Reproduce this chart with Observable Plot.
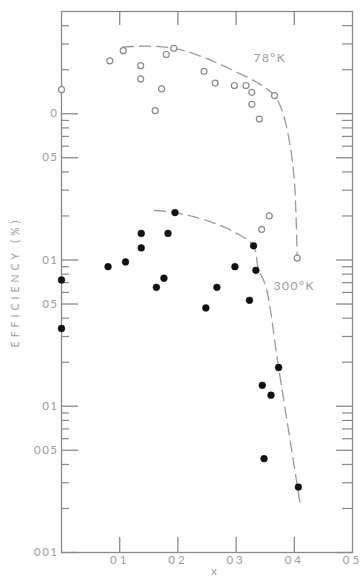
<!DOCTYPE html>
<html><head><meta charset="utf-8">
<script src="https://cdn.jsdelivr.net/npm/d3@7"></script>
<script src="https://cdn.jsdelivr.net/npm/@observablehq/plot@0.6"></script>
<style>body{margin:0;background:#fff;}svg{display:block}</style>
</head><body><div id="chart"></div>
<script>
// tick values and labels (as printed on the original)
const xTickValues = [0.1, 0.2, 0.3, 0.4, 0.5];
const xTickLabels = ["01", "02", "03", "04", "05"];
const xInnerTicks = [0.1, 0.2, 0.3, 0.4];
const yMajor = [0.01, 0.05, 0.1, 0.5, 1, 5, 10];
const yMajorLabels = ["001", "005", "01", "05", "01", "05", "0"];
const yMinor = [0.02, 0.03, 0.04, 0.06, 0.07, 0.08, 0.09,
                0.2, 0.3, 0.4, 0.6, 0.7, 0.8, 0.9,
                2, 3, 4, 6, 7, 8, 9, 20, 30, 40];

// 78 K measurements (open circles)
const x78 = [0, 0.083, 0.106, 0.136, 0.136, 0.161, 0.172, 0.18, 0.193, 0.245, 0.264, 0.297, 0.317, 0.327, 0.327, 0.34, 0.366, 0.344, 0.357, 0.405];
const y78 = [14.6, 23, 27, 21.3, 17.3, 10.5, 14.8, 25.4, 28, 19.5, 16.2, 15.6, 15.6, 14, 11.6, 9.2, 13.3, 1.62, 2.0, 1.03];
// 300 K measurements (filled circles)
const x300 = [0, 0, 0.08, 0.11, 0.137, 0.137, 0.163, 0.176, 0.183, 0.195, 0.248, 0.267, 0.298, 0.323, 0.33, 0.334, 0.345, 0.36, 0.373, 0.348, 0.407];
const y300 = [0.73, 0.34, 0.90, 0.97, 1.52, 1.21, 0.65, 0.75, 1.52, 2.11, 0.47, 0.65, 0.90, 0.53, 1.25, 0.85, 0.139, 0.119, 0.184, 0.0438, 0.028];

// dashed guide curves
const curve78x = [0.105, 0.15, 0.193, 0.23, 0.27, 0.31, 0.34, 0.366, 0.38, 0.393, 0.4, 0.403, 0.405];
const curve78y = [28.5, 29, 28, 25.5, 22, 18.5, 16, 13.3, 10.2, 6, 3.5, 2, 1.03];
const curve300x = [0.16, 0.195, 0.255, 0.301, 0.33, 0.338, 0.351, 0.373, 0.41];
const curve300y = [2.18, 2.11, 1.83, 1.52, 1.25, 0.88, 0.66, 0.184, 0.0216];

const seriesLabels = [{x: 0.358, y: 24, t: "78°K"}, {x: 0.40, y: 0.66, t: "300°K"}];

const W = 363, H = 579, mL = 61, mR = 11, mT = 11, mB = 27;
const pw = W - mL - mR, ph = H - mT - mB;
const gray = "#8a8a8a", light = "#9c9c9c";
const font = "Lato, 'Open Sans', sans-serif";

const pts78 = x78.map((x, i) => ({x, y: y78[i]}));
const pts300 = x300.map((x, i) => ({x, y: y300[i]}));
const c78 = curve78x.map((x, i) => ({x, y: curve78y[i]}));
const c300 = curve300x.map((x, i) => ({x, y: curve300y[i]}));

const chart = Plot.plot({
  width: W, height: H,
  marginLeft: mL, marginRight: mR, marginTop: mT, marginBottom: mB,
  style: {background: "#fff", fontFamily: font},
  x: {domain: [0, 0.5], axis: null},
  y: {type: "log", domain: [0.01, 50], axis: null},
  marks: [
    Plot.frame({stroke: gray, strokeWidth: 1.3}),
    // left ticks
    Plot.tickY(yMajor, {y: d => d, insetRight: pw - 17, stroke: gray, strokeWidth: 1.3}),
    Plot.tickY(yMinor, {y: d => d, insetRight: pw - 8, stroke: gray, strokeWidth: 1.2}),
    // right ticks
    Plot.tickY(yMajor, {y: d => d, insetLeft: pw - 16, stroke: gray, strokeWidth: 1.3}),
    Plot.tickY(yMinor, {y: d => d, insetLeft: pw - 10, stroke: gray, strokeWidth: 1.2}),
    // bottom and top ticks
    Plot.tickX(xInnerTicks, {x: d => d, insetTop: ph - 15, stroke: gray, strokeWidth: 1.3}),
    Plot.tickX(xInnerTicks, {x: d => d, insetBottom: ph - 14, stroke: gray, strokeWidth: 1.3}),
    // tick labels (text group 0)
    Plot.text(yMajor, {y: d => d, text: (d, i) => yMajorLabels[i], frameAnchor: "left", textAnchor: "end", dx: -3, fill: light, fontSize: 11.5}),
    // (text group 1)
    Plot.text(xTickValues, {x: d => d, text: (d, i) => xTickLabels[i], frameAnchor: "bottom", dy: 11, dx: 0, fill: light, fontSize: 11.5}),
    // axis titles (text groups 2, 3)
    Plot.text(["EFFICIENCY (%)"], {text: d => d, frameAnchor: "left", textAnchor: "middle", dx: -46, dy: 0, rotate: -90, fill: light, fontSize: 10.5}),
    Plot.text(["x"], {text: d => d, frameAnchor: "bottom", dx: 7, dy: 22, fill: light, fontSize: 11}),
    // dashed curves
    Plot.line(c78, {x: "x", y: "y", curve: "catmull-rom", stroke: "#9a9a9a", strokeWidth: 1.3, strokeDasharray: "11,6"}),
    Plot.line(c300, {x: "x", y: "y", curve: "catmull-rom", stroke: "#9a9a9a", strokeWidth: 1.3, strokeDasharray: "11,6"}),
    // data
    Plot.dot(pts78, {x: "x", y: "y", r: 3, stroke: "#8a8a8a", strokeWidth: 1.2, fill: "#fff"}),
    Plot.dot(pts300, {x: "x", y: "y", r: 3.4, fill: "#111", stroke: "#111", strokeWidth: 0.5}),
    // series labels (text group 4)
    Plot.text(seriesLabels, {x: "x", y: "y", text: "t", fill: light, fontSize: 12})
  ]
});
const groups = d3.select(chart).selectAll('g[aria-label="text"]').nodes();
const spacing = ["1.5px", "3px", "4px", "0px", "1.5px"];
groups.forEach((g, i) => d3.select(g).selectAll("text").style("letter-spacing", spacing[i] || "0px"));
document.getElementById("chart").appendChild(chart);
</script>
</body></html>
